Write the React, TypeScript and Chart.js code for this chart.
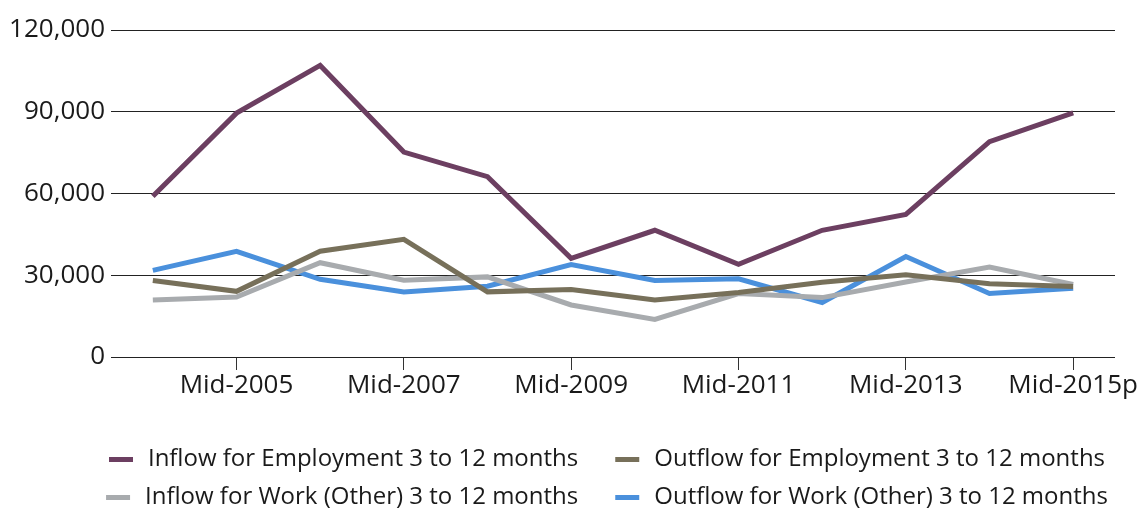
import React, { useEffect, useRef } from "react";
import { Chart, registerables } from "chart.js";

Chart.register(...registerables);

const categories = [
  "Mid-2004", "Mid-2005", "Mid-2006", "Mid-2007", "Mid-2008", "Mid-2009",
  "Mid-2010", "Mid-2011", "Mid-2012", "Mid-2013", "Mid-2014", "Mid-2015p",
];

const inflowEmployment = [59000, 89500, 107000, 75200, 66200, 36200, 46500, 34000, 46500, 52300, 79000, 89600];
const outflowEmployment = [28100, 24100, 38800, 43200, 23900, 24800, 20900, 23700, 27400, 30200, 26900, 25900];
const inflowWorkOther = [20900, 22000, 34600, 28200, 29400, 19100, 13800, 23300, 21800, 27500, 33000, 26600];
const outflowWorkOther = [31800, 38800, 28500, 23900, 26000, 33900, 28100, 28700, 20000, 36900, 23300, 25200];

const seriesNames = [
  "Inflow for Employment 3 to 12 months",
  "Outflow for Employment 3 to 12 months",
  "Inflow for Work (Other) 3 to 12 months",
  "Outflow for Work (Other) 3 to 12 months",
];
const seriesColors = ["#6c3f61", "#77705a", "#a8abae", "#4a90dc"];

const yTicks = [0, 30000, 60000, 90000, 120000];

function makeMarker(color: string): HTMLCanvasElement {
  const c = document.createElement("canvas");
  c.width = 50;
  c.height = 5;
  const ctx = c.getContext("2d")!;
  ctx.fillStyle = color;
  ctx.fillRect(23, 0, 24, 5);
  return c;
}

const legendShift = {
  id: "legendShift",
  afterLayout(chart: any) {
    const lg = chart.legend;
    if (lg) {
      lg.left += 37;
      lg.right += 37;
    }
  },
};

export default function App() {
  const ref = useRef<HTMLCanvasElement | null>(null);

  useEffect(() => {
    if (!ref.current) return;
    const family = "'Open Sans', sans-serif";
    const axisFont = { family, size: 26 };
    const legendFont = { family, size: 24 };
    const data = [inflowEmployment, outflowEmployment, inflowWorkOther, outflowWorkOther];
    const markers = seriesColors.map(makeMarker);
    const chart = new Chart(ref.current, {
      type: "line",
      data: {
        labels: categories,
        datasets: data.map((d, i) => ({
          label: seriesNames[i],
          data: d,
          borderColor: seriesColors[i],
          backgroundColor: seriesColors[i],
          borderWidth: 5,
          pointRadius: 0,
          tension: 0,
          borderJoinStyle: "miter" as const,
          borderCapStyle: "butt" as const,
        })),
      },
      plugins: [legendShift],
      options: {
        animation: false,
        responsive: false,
        layout: { padding: { left: 2, right: 28, top: 30, bottom: 0 } },
        plugins: {
          tooltip: { enabled: false },
          legend: {
            position: "bottom",
            labels: {
              font: legendFont,
              color: "#1a1a1a",
              usePointStyle: true,
              pointStyleWidth: 50,
              padding: 14,
              generateLabels: (c: any) =>
                Chart.defaults.plugins.legend.labels
                  .generateLabels(c)
                  .map((l: any, i: number) => ({ ...l, pointStyle: markers[i] })),
            },
          },
        },
        scales: {
          x: {
            offset: true,
            grid: {
              offset: false,
              drawOnChartArea: false,
              drawTicks: true,
              tickLength: 13,
              tickColor: (ctx: any) => (ctx.index % 2 === 1 ? "#333" : "rgba(0,0,0,0)"),
            },
            border: { display: false },
            ticks: {
              font: axisFont,
              color: "#1a1a1a",
              padding: 0,
              autoSkip: false,
              maxRotation: 0,
              callback: (_v: any, i: number) => (i % 2 === 1 ? categories[i] : ""),
            },
            afterFit: (scale: any) => {
              scale.height = 76;
            },
          },
          y: {
            min: yTicks[0],
            max: yTicks[yTicks.length - 1],
            grid: { color: "#222", lineWidth: 1, drawTicks: false },
            border: { display: false },
            afterBuildTicks: (scale: any) => {
              scale.ticks = yTicks.map((v) => ({ value: v }));
            },
            ticks: {
              font: axisFont,
              color: "#1a1a1a",
              padding: 6,
              callback: (v: any) => Number(v).toLocaleString("en-US"),
            },
            afterFit: (scale: any) => {
              scale.width = 109;
            },
          },
        },
      },
    } as any);
    return () => chart.destroy();
  }, []);

  return (
    <div style={{ position: "fixed", left: 0, top: 0, width: 1143, height: 508, overflow: "hidden", background: "#fff" }}>
      <canvas ref={ref} width={1143} height={519} />
    </div>
  );
}
